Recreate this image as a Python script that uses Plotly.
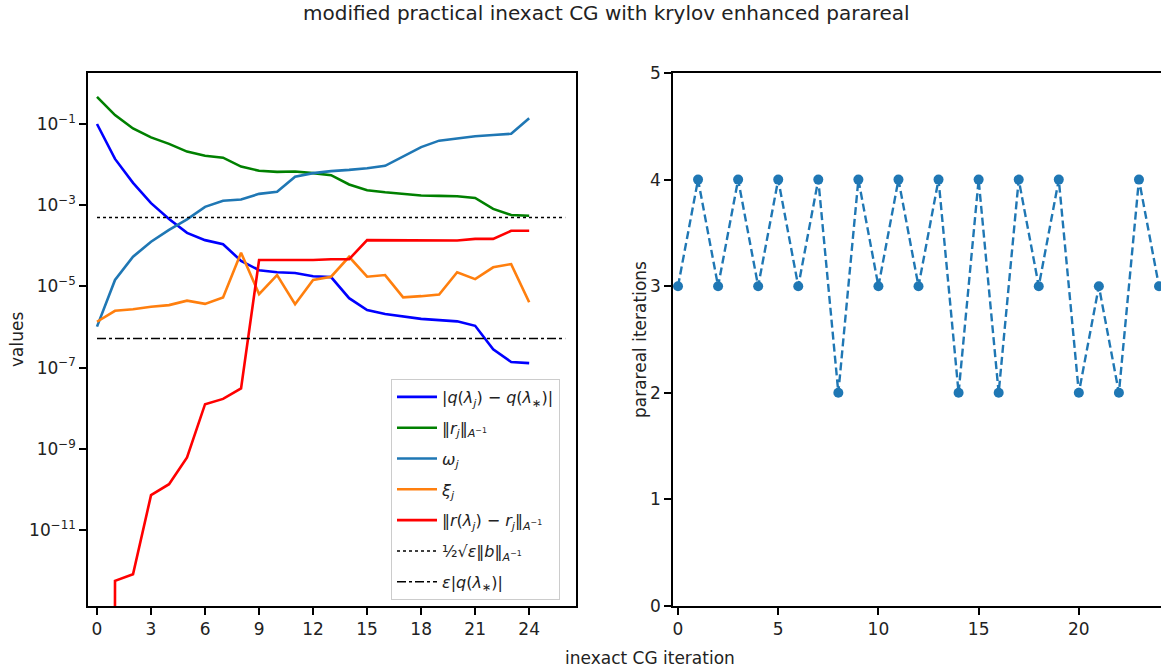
import plotly.graph_objects as go

# ---------------- data ----------------
iters = list(range(25))
q_err = [10**v for v in [-1.0, -1.86, -2.45, -2.95, -3.34, -3.68, -3.86, -3.96, -4.37, -4.6,
                         -4.65, -4.67, -4.75, -4.77, -5.29, -5.58, -5.68, -5.74, -5.8, -5.83,
                         -5.86, -5.97, -6.55, -6.86, -6.89]]
r_norm = [10**v for v in [-0.33, -0.78, -1.11, -1.33, -1.49, -1.68, -1.78, -1.83, -2.05, -2.15,
                          -2.18, -2.17, -2.21, -2.26, -2.49, -2.63, -2.68, -2.72, -2.76, -2.77,
                          -2.78, -2.82, -3.09, -3.24, -3.26]]
omega = [10**v for v in [-5.99, -4.84, -4.27, -3.9, -3.61, -3.35, -3.04, -2.89, -2.86, -2.72,
                         -2.67, -2.3, -2.21, -2.16, -2.13, -2.09, -2.03, -1.79, -1.57, -1.41,
                         -1.36, -1.3, -1.27, -1.24, -0.86]]
xi = [10**v for v in [-5.87, -5.6, -5.56, -5.5, -5.46, -5.35, -5.43, -5.27, -4.17, -5.19,
                      -4.72, -5.44, -4.84, -4.76, -4.27, -4.76, -4.72, -5.27, -5.24, -5.2,
                      -4.65, -4.82, -4.53, -4.45, -5.39]]
r_diff = [0.0] + [10**v for v in [-12.25, -12.09, -10.14, -9.87, -9.21, -7.9, -7.77, -7.51, -4.35,
                                  -4.35, -4.35, -4.35, -4.33, -4.33, -3.86, -3.86, -3.87, -3.87, -3.87,
                                  -3.87, -3.83, -3.83, -3.63, -3.63]]
tol_r = 5.0e-4
tol_q = 5.2e-7
hline_x = [0, 26]

parareal_iters = [3, 4, 3, 4, 3, 4, 3, 4, 2, 4, 3, 4, 3, 4, 2, 4, 2, 4, 3, 4, 2, 3, 2, 4, 3]

left_xticks = [0, 3, 6, 9, 12, 15, 18, 21, 24]
left_yticks = [1e-1, 1e-3, 1e-5, 1e-7, 1e-9, 1e-11]
left_yticktext = ["10<sup>−1</sup>", "10<sup>−3</sup>", "10<sup>−5</sup>", "10<sup>−7</sup>",
                  "10<sup>−9</sup>", "10<sup>−11</sup>"]
right_xticks = [0, 5, 10, 15, 20]
right_yticks = [0, 1, 2, 3, 4, 5]

# ---------------- figure ----------------
W, H = 1161, 671
FONT = "DejaVu Sans"
TXT = "#222222"

def px_x(p):
    return p / W

def px_y(p):
    return 1 - p / H

fig = go.Figure()

# zero values are clipped to a tiny positive floor on the log axis (as matplotlib does)
r_diff_plot = [v if v > 0 else 1e-300 for v in r_diff]

series = [
    (q_err, "#0000ff", "|<i>q</i>(<i>λ<sub>j</sub></i>) − <i>q</i>(<i>λ</i><sub>∗</sub>)|"),
    (r_norm, "#008000", "‖<i>r<sub>j</sub></i>‖<sub><i>A</i><sup>−1</sup></sub>"),
    (omega, "#1f77b4", "<i>ω<sub>j</sub></i>"),
    (xi, "#ff7f0e", "<i>ξ<sub>j</sub></i>"),
    (r_diff_plot, "#ff0000", "‖<i>r</i>(<i>λ<sub>j</sub></i>) − <i>r<sub>j</sub></i>‖<sub><i>A</i><sup>−1</sup></sub>"),
]
for i, (vals, col, name) in enumerate(series):
    fig.add_trace(go.Scatter(x=iters, y=vals, mode="lines", name=name,
                             line=dict(color=col, width=2.6),
                             legendgroup=f"g{i}", xaxis="x", yaxis="y"))

fig.add_trace(go.Scatter(x=hline_x, y=[tol_r, tol_r], mode="lines",
                         name="½√<i>ε</i>‖<i>b</i>‖<sub><i>A</i><sup>−1</sup></sub>",
                         line=dict(color="black", width=1.5, dash="dot"),
                         legendgroup="g5", xaxis="x", yaxis="y"))
fig.add_trace(go.Scatter(x=hline_x, y=[tol_q, tol_q], mode="lines",
                         name="<i>ε</i>|<i>q</i>(<i>λ</i><sub>∗</sub>)|",
                         line=dict(color="black", width=1.5, dash="dashdot"),
                         legendgroup="g6", xaxis="x", yaxis="y"))

fig.add_trace(go.Scatter(x=iters, y=parareal_iters, mode="lines+markers",
                         line=dict(color="#1f77b4", width=2.4, dash="8px,4px"),
                         marker=dict(color="#1f77b4", size=10),
                         showlegend=False, xaxis="x2", yaxis="y2", cliponaxis=True))

axis_common = dict(showline=True, linecolor="black", linewidth=1.6, mirror=True,
                   ticks="outside", ticklen=7, tickwidth=1.6, tickcolor="black",
                   showgrid=False, zeroline=False, automargin=False,
                   tickfont=dict(family=FONT, size=17, color=TXT))

fig.update_layout(
    width=W, height=H,
    margin=dict(l=0, r=0, t=0, b=0),
    paper_bgcolor="white", plot_bgcolor="white",
    font=dict(family=FONT, size=17, color=TXT),
    showlegend=True,
    legend=dict(x=px_x(391), y=px_y(379), xanchor="left", yanchor="top",
                bgcolor="rgba(255,255,255,0.9)", bordercolor="#cccccc", borderwidth=1,
                font=dict(family=FONT, size=16, color=TXT),
                tracegroupgap=7, itemwidth=40),
    xaxis=dict(domain=[px_x(88), px_x(576)], range=[-0.5, 26.6],
               tickvals=left_xticks, anchor="y", **axis_common),
    yaxis=dict(domain=[px_y(606), px_y(73)], type="log", range=[-12.87, 0.256],
               tickvals=left_yticks, ticktext=left_yticktext, anchor="x", **axis_common),
    xaxis2=dict(domain=[px_x(673), 1.0], range=[-0.25, 24.1],
                tickvals=right_xticks, anchor="y2", **axis_common),
    yaxis2=dict(domain=[px_y(606), px_y(73)], range=[0, 5],
                tickvals=right_yticks, anchor="x2", **axis_common),
)

fig.add_annotation(text="modified practical inexact CG with krylov enhanced parareal",
                   x=px_x(606), y=px_y(13), xref="paper", yref="paper",
                   xanchor="center", yanchor="middle", showarrow=False,
                   font=dict(family=FONT, size=20, color=TXT))
fig.add_annotation(text="inexact CG iteration", x=px_x(650), y=px_y(658),
                   xref="paper", yref="paper", xanchor="center", yanchor="middle",
                   showarrow=False, font=dict(family=FONT, size=17, color=TXT))
fig.add_annotation(text="values", x=px_x(17), y=px_y(340), xref="paper", yref="paper",
                   xanchor="center", yanchor="middle", textangle=-90, showarrow=False,
                   font=dict(family=FONT, size=17, color=TXT))
fig.add_annotation(text="parareal iterations", x=px_x(640), y=px_y(340), xref="paper",
                   yref="paper", xanchor="center", yanchor="middle", textangle=-90,
                   showarrow=False, font=dict(family=FONT, size=17, color=TXT))

fig.write_html("out.html")
